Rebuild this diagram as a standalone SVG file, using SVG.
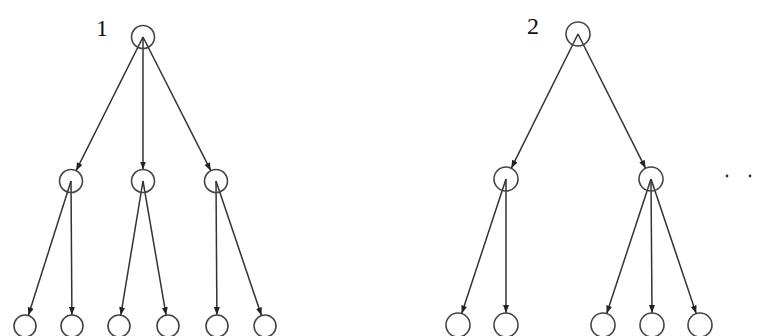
<svg xmlns="http://www.w3.org/2000/svg" width="770" height="336" viewBox="0 0 770 336">
<style>
.n{fill:none;stroke:#444;stroke-width:1.6}
.e{stroke:#333;stroke-width:1.5;fill:none;marker-end:url(#ah)}
.t{font-family:"Liberation Serif",serif;font-size:24px;fill:#111}
.d{fill:#333}
</style>
<defs>
<marker id="ah" markerUnits="userSpaceOnUse" markerWidth="9" markerHeight="7" refX="8" refY="3" orient="auto">
<path d="M0,0 L8,3 L0,6 z" fill="#222"/>
</marker>
</defs>
<rect width="770" height="336" fill="#fff"/>
<text class="t" x="96" y="36">1</text>
<text class="t" x="527" y="34">2</text>
<circle class="d" cx="727" cy="176" r="1.4"/>
<circle class="d" cx="750" cy="176" r="1.4"/>
<g id="connectors">
<line class="e" x1="143" y1="37" x2="76.1" y2="170.7"/>
<line class="e" x1="143" y1="37" x2="143" y2="169.5"/>
<line class="e" x1="143" y1="37" x2="210.8" y2="170.7"/>
<line class="e" x1="71" y1="181" x2="28.3" y2="315.5"/>
<line class="e" x1="71" y1="181" x2="71.9" y2="315"/>
<line class="e" x1="143" y1="181" x2="120.8" y2="315.2"/>
<line class="e" x1="143" y1="181" x2="166.1" y2="315.2"/>
<line class="e" x1="216" y1="181" x2="216.9" y2="315"/>
<line class="e" x1="216" y1="181" x2="261.5" y2="315.6"/>
<line class="e" x1="578" y1="34" x2="511.3" y2="168.2"/>
<line class="e" x1="578" y1="34" x2="645.6" y2="168.3"/>
<line class="e" x1="506" y1="179" x2="461.7" y2="313.6"/>
<line class="e" x1="506" y1="179" x2="506" y2="313"/>
<line class="e" x1="651" y1="179" x2="606.7" y2="313.6"/>
<line class="e" x1="651" y1="179" x2="652" y2="313"/>
<line class="e" x1="651" y1="179" x2="696.2" y2="313.6"/>
</g>
<g id="r1"><circle class="n" cx="143" cy="37" r="11.5"/></g>
<g id="m1a"><circle class="n" cx="71" cy="181" r="11.5"/></g>
<g id="m1b"><circle class="n" cx="143" cy="181" r="11.5"/></g>
<g id="m1c"><circle class="n" cx="216" cy="181" r="11.5"/></g>
<g id="l1a"><circle class="n" cx="25" cy="326" r="11"/></g>
<g id="l1b"><circle class="n" cx="72" cy="326" r="11"/></g>
<g id="l1c"><circle class="n" cx="119" cy="326" r="11"/></g>
<g id="l1d"><circle class="n" cx="168" cy="326" r="11"/></g>
<g id="l1e"><circle class="n" cx="217" cy="326" r="11"/></g>
<g id="l1f"><circle class="n" cx="265" cy="326" r="11"/></g>
<g id="r2"><circle class="n" cx="578" cy="34" r="12"/></g>
<g id="m2a"><circle class="n" cx="506" cy="179" r="12"/></g>
<g id="m2b"><circle class="n" cx="651" cy="179" r="12"/></g>
<g id="l2a"><circle class="n" cx="458" cy="325" r="12"/></g>
<g id="l2b"><circle class="n" cx="506" cy="325" r="12"/></g>
<g id="l2c"><circle class="n" cx="603" cy="325" r="12"/></g>
<g id="l2d"><circle class="n" cx="652" cy="325" r="12"/></g>
<g id="l2e"><circle class="n" cx="700" cy="325" r="12"/></g>
</svg>
